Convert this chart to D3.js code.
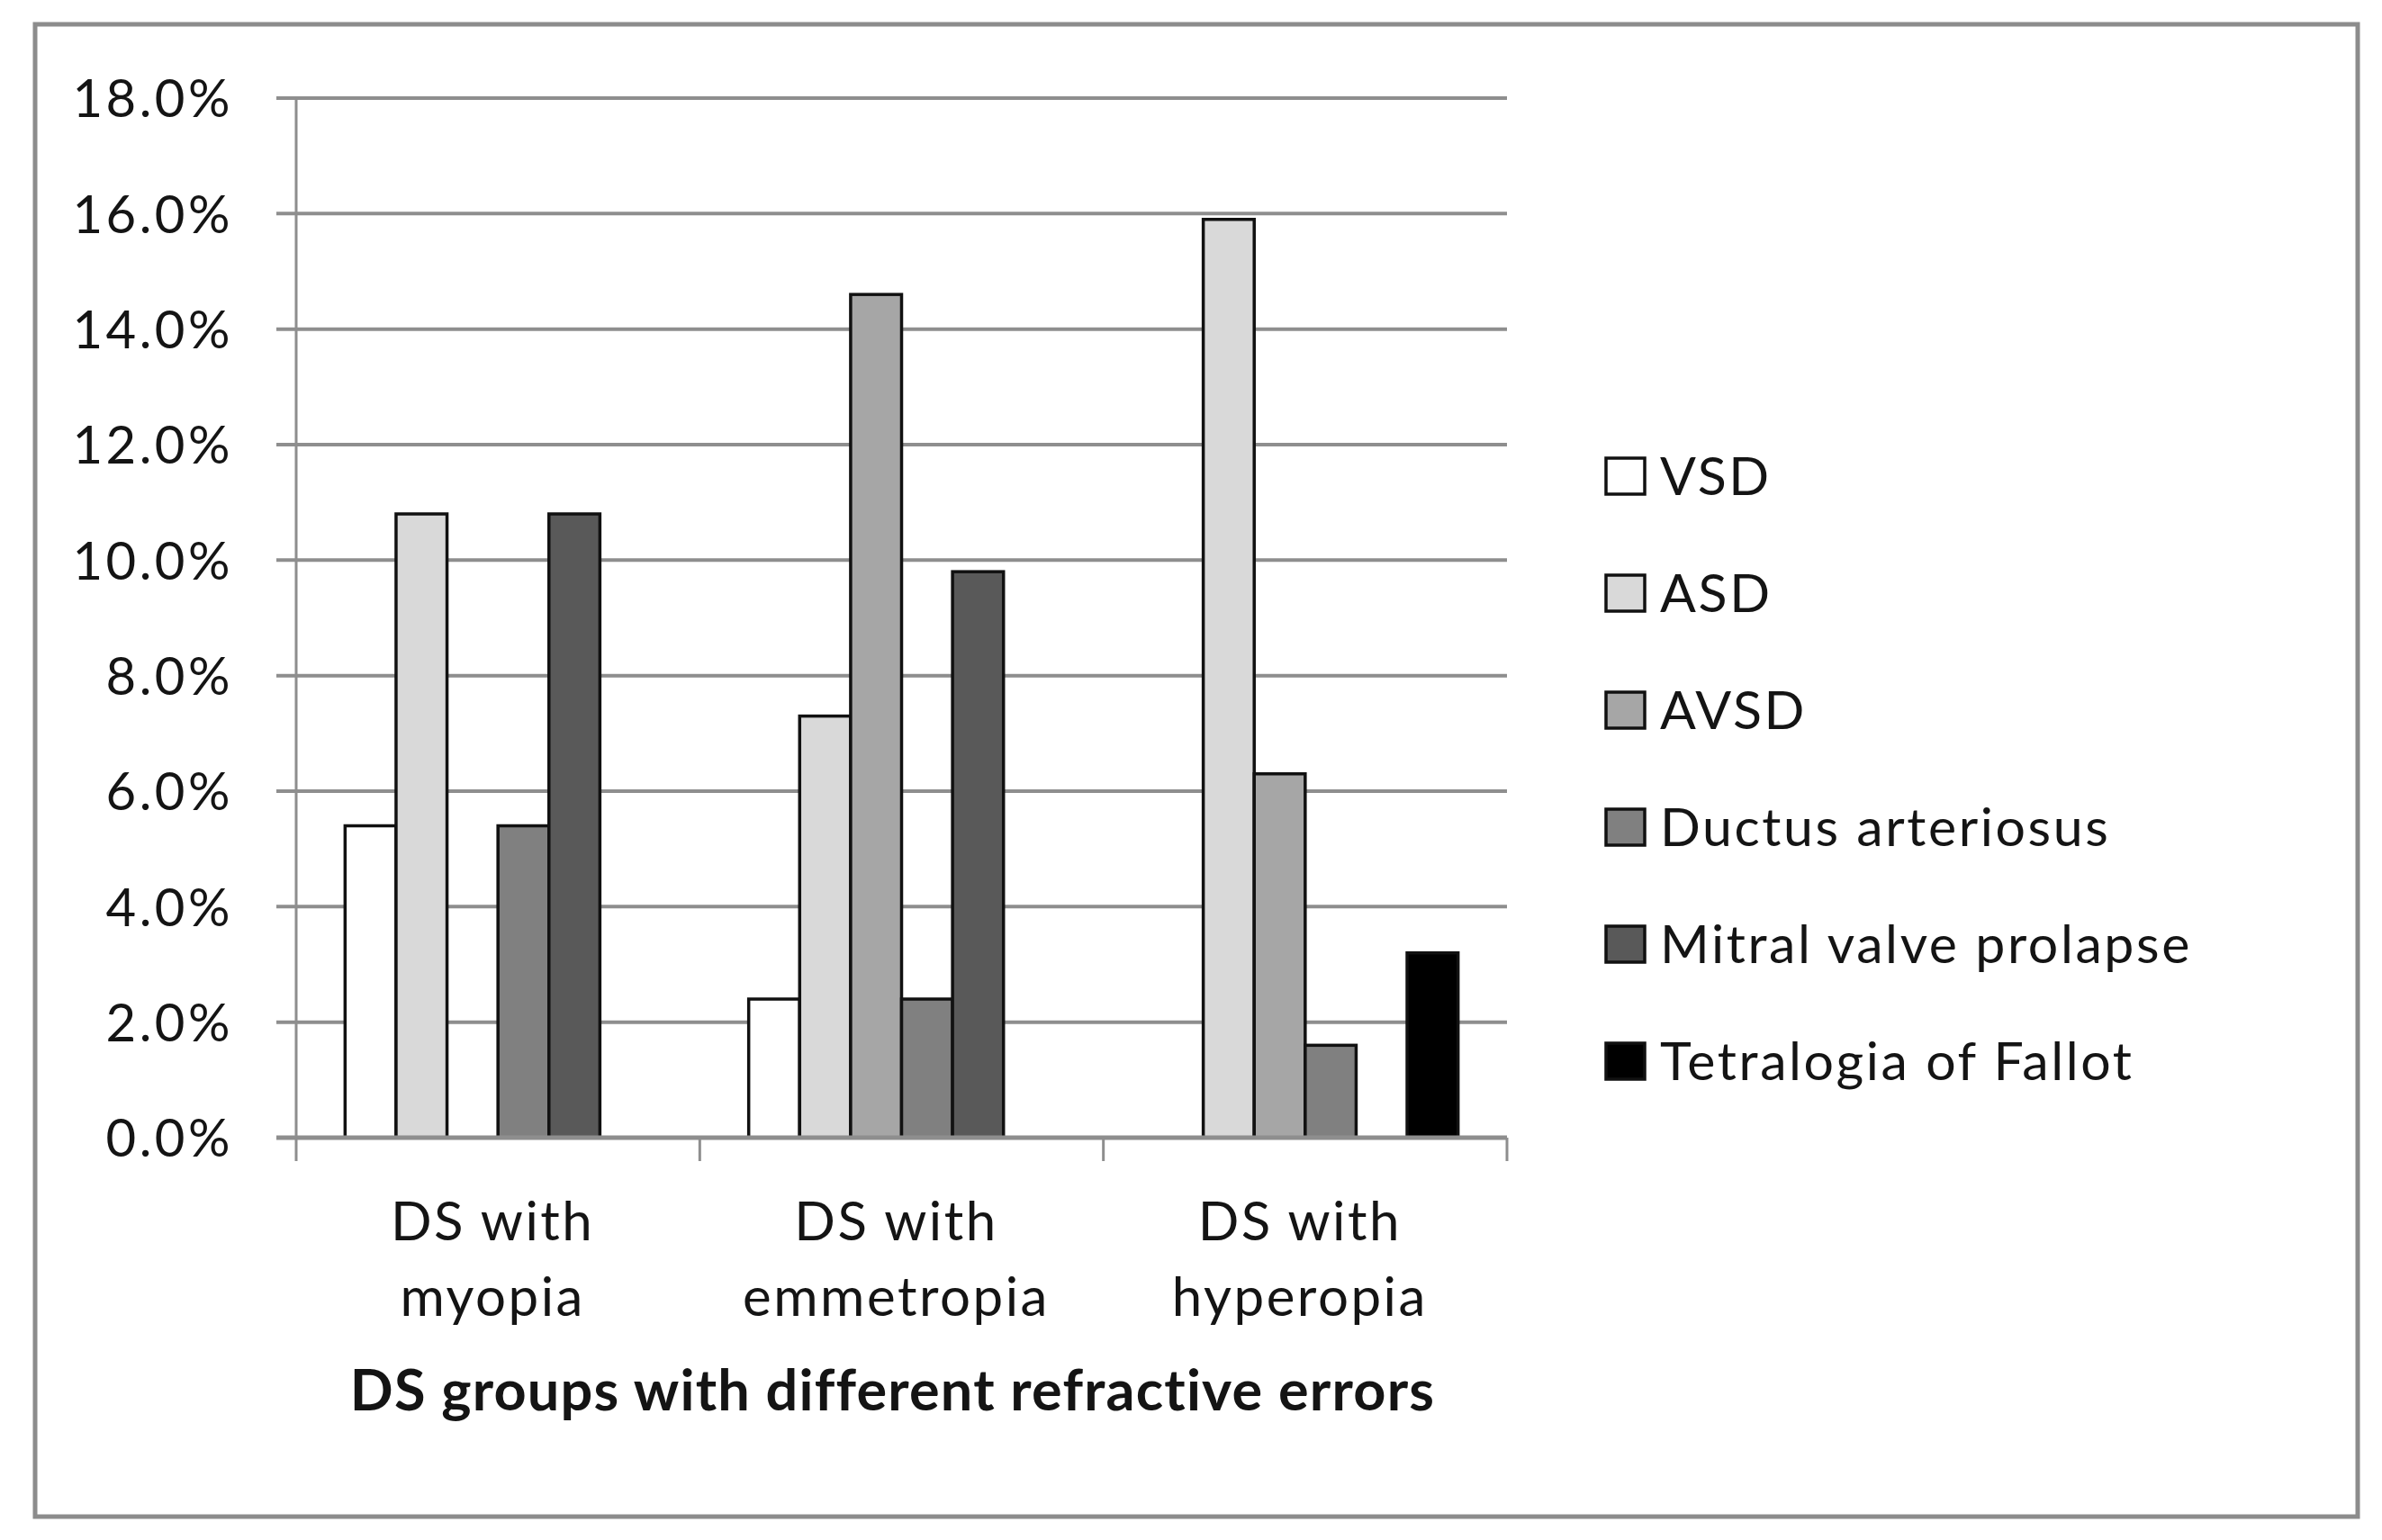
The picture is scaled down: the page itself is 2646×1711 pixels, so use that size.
<!DOCTYPE html>
<html>
<head>
<meta charset="utf-8">
<script src="https://cdnjs.cloudflare.com/ajax/libs/d3/7.8.5/d3.min.js"></script>
<style>
  html, body { margin: 0; padding: 0; background: #fff; }
  svg text { font-family: Lato, "Open Sans", sans-serif; fill: #141414; }
</style>
</head>
<body>
<script>
// groups on the x axis (two lines each)
const groups = [
    ['DS with', 'myopia'],
    ['DS with', 'emmetropia'],
    ['DS with', 'hyperopia']
];
const series = ['VSD', 'ASD', 'AVSD', 'Ductus arteriosus', 'Mitral valve prolapse', 'Tetralogia of Fallot'];
const colors = ['#ffffff', '#d9d9d9', '#a6a6a6', '#808080', '#595959', '#000000'];

// percentages, one array per group, same order as series
const myopia = [5.4, 10.8, 0, 5.4, 10.8, 0];
const emmetropia = [2.4, 7.3, 14.6, 2.4, 9.8, 0];
const hyperopia = [0, 15.9, 6.3, 1.6, 0, 3.2];

const yTicks = [0, 2, 4, 6, 8, 10, 12, 14, 16, 18];
const xTitle = 'DS groups with different refractive errors';

let values = [myopia, emmetropia, hyperopia];

let width = 2646,
    height = 1711;

let svg = d3.select('body')
    .append('svg')
    .attr('width', width)
    .attr('height', height);

// outer chart frame
svg.append('rect')
    .attr('x', 39)
    .attr('y', 27)
    .attr('width', 2580)
    .attr('height', 1658)
    .attr('fill', '#fff')
    .attr('stroke', '#8c8c8c')
    .attr('stroke-width', 5);

let pLeft = 329, pRight = 1674, pTop = 109, pBottom = 1264;

let y = d3.scaleLinear()
    .domain([0, 18])
    .range([pBottom, pTop]);

let x0 = d3.scaleBand()
    .domain(d3.range(groups.length))
    .range([pLeft, pRight])
    .padding(0);

let x1 = d3.scaleBand()
    .domain(series)
    .range([0, x0.bandwidth()])
    .paddingInner(0)
    .paddingOuter(0.96);

// gridlines (with the small outside tick)
svg.append('g')
    .selectAll('line')
    .data(yTicks.filter(d => d > 0))
    .enter()
    .append('line')
    .attr('x1', pLeft - 22)
    .attr('x2', pRight)
    .attr('y1', d => y(d))
    .attr('y2', d => y(d))
    .attr('stroke', '#8e8e8e')
    .attr('stroke-width', 4);

// y axis line
svg.append('line')
    .attr('x1', pLeft).attr('x2', pLeft)
    .attr('y1', pTop).attr('y2', pBottom)
    .attr('stroke', '#8e8e8e')
    .attr('stroke-width', 3);

// y labels
let yAxis = d3.axisLeft(y)
    .tickValues(yTicks)
    .tickSize(0)
    .tickPadding(70)
    .tickFormat(d => d.toFixed(1) + '%');

let yg = svg.append('g')
    .attr('transform', 'translate(' + pLeft + ',0)')
    .call(yAxis);
yg.select('.domain').remove();
yg.selectAll('text')
    .attr('dy', '0.36em')
    .style('font-size', '58px')
    .style('font-family', 'Lato')
    .style('letter-spacing', '3.5px')
    .attr('fill', '#141414');

// bars
let bars = svg.append('g');
values.forEach(function (vals, gi) {
    bars.append('g')
        .attr('transform', 'translate(' + x0(gi) + ',0)')
        .selectAll('rect')
        .data(vals.map((v, i) => ({ name: series[i], v: v, c: colors[i] })).filter(d => d.v > 0))
        .enter()
        .append('rect')
        .attr('x', d => x1(d.name))
        .attr('y', d => y(d.v))
        .attr('width', x1.bandwidth())
        .attr('height', d => y(0) - y(d.v))
        .attr('fill', d => d.c)
        .attr('stroke', '#111')
        .attr('stroke-width', 3.5);
});

// x axis line + category ticks
svg.append('line')
    .attr('x1', pLeft - 22).attr('x2', pRight)
    .attr('y1', pBottom).attr('y2', pBottom)
    .attr('stroke', '#8e8e8e')
    .attr('stroke-width', 5);

svg.append('g')
    .selectAll('line')
    .data(d3.range(groups.length + 1))
    .enter()
    .append('line')
    .attr('x1', d => pLeft + d * x0.bandwidth())
    .attr('x2', d => pLeft + d * x0.bandwidth())
    .attr('y1', pBottom)
    .attr('y2', pBottom + 26)
    .attr('stroke', '#8e8e8e')
    .attr('stroke-width', 3);

// category labels
let cat = svg.append('g')
    .selectAll('text')
    .data(groups)
    .enter()
    .append('text')
    .attr('text-anchor', 'middle')
    .style('font-size', '60px')
    .style('letter-spacing', '2.5px');
cat.append('tspan')
    .attr('x', (d, i) => x0(i) + x0.bandwidth() / 2 - 6)
    .attr('y', 1378)
    .text(d => d[0]);
cat.append('tspan')
    .attr('x', (d, i) => x0(i) + x0.bandwidth() / 2 - 6)
    .attr('y', 1462)
    .text(d => d[1]);

// axis title
svg.append('text')
    .attr('x', (pLeft + pRight) / 2 - 10)
    .attr('y', 1567)
    .attr('text-anchor', 'middle')
    .style('font-size', '63px')
    .style('font-weight', 'bold')
    .style('letter-spacing', '1.2px')
    .text(xTitle);

// legend
let legend = svg.append('g')
    .selectAll('g')
    .data(series)
    .enter()
    .append('g')
    .attr('transform', (d, i) => 'translate(1784,' + (529 + i * 130) + ')');

legend.append('rect')
    .attr('x', 0)
    .attr('y', -20)
    .attr('width', 43)
    .attr('height', 40)
    .attr('fill', (d, i) => colors[i])
    .attr('stroke', '#111')
    .attr('stroke-width', 3.5);

legend.append('text')
    .attr('x', 60)
    .attr('y', 0)
    .attr('dy', '0.36em')
    .style('font-size', '59px')
    .style('letter-spacing', '2.6px')
    .text(d => d);
</script>
</body>
</html>
